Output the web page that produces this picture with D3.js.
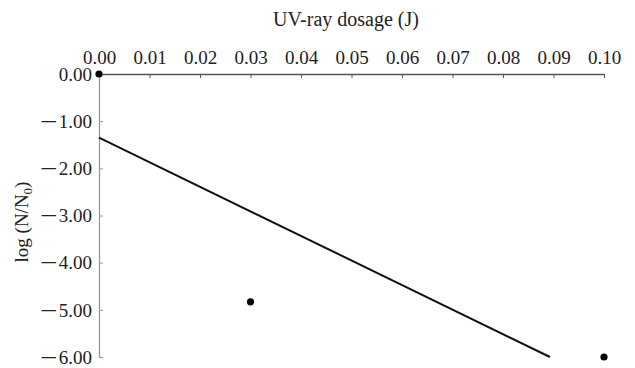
<!DOCTYPE html>
<html>
<head>
<meta charset="utf-8">
<script src="https://cdn.jsdelivr.net/npm/d3@7"></script>
<style>
  body { margin: 0; background: #fff; }
  svg { display: block; }
  text { font-family: "Liberation Serif", "DejaVu Serif", serif; fill: #222; }
</style>
</head>
<body>
<svg></svg>
<script>
// measured points
const dosage = [0.00, 0.03, 0.10];
const logRatio = [0.00, -4.83, -6.00];

// fitted line, drawn from its two ends
const fitDosage = [0.000, 0.0893];
const fitLog = [-1.35, -6.00];

const xTicks = [0, 0.01, 0.02, 0.03, 0.04, 0.05, 0.06, 0.07, 0.08, 0.09, 0.10];
const yTicks = [0, -1, -2, -3, -4, -5, -6];

const iWidth = 635, iHeight = 368;
const margin = {top: 74, right: 31, bottom: 11, left: 99};
const innerWidth = iWidth - margin.left - margin.right;
const innerHeight = iHeight - margin.top - margin.bottom;

const canvas = d3.select('svg')
                 .attr('width', iWidth)
                 .attr('height', iHeight);

const g = canvas.append('g')
                .attr('transform', `translate(${margin.left},${margin.top})`);

const xScale = d3.scaleLinear().domain([0, 0.10]).range([0, innerWidth]);
const yScale = d3.scaleLinear().domain([0, -6]).range([0, innerHeight]);

const f2 = d3.format('.2f');

// top x axis, ticks pointing into the plot
const xAxis = g.append('g')
   .call(d3.axisTop(xScale).tickValues(xTicks).tickFormat(f2)
           .tickSizeInner(-4).tickSizeOuter(0).tickPadding(10));
xAxis.select('.domain').attr('stroke', '#555').attr('stroke-width', 1.3);
xAxis.selectAll('.tick line').attr('stroke', '#555');
xAxis.selectAll('text').style('font-size', '19px').attr('fill', '#222');

// left y axis
const yAxis = g.append('g')
   .call(d3.axisLeft(yScale).tickValues(yTicks).tickFormat(f2)
           .tickSizeInner(-4).tickSizeOuter(0).tickPadding(7));
yAxis.select('.domain').attr('stroke', '#999').attr('stroke-width', 1.3);
yAxis.selectAll('.tick line').attr('stroke', '#999');
yAxis.selectAll('text')
     .style('font-size', '19px').attr('fill', '#222').attr('dy', '0.33em')
     .each(function(d) {
       const t = d3.select(this).text('');
       // long minus sign as in the original typesetting
       if (d < 0) t.append('tspan').style('font-size', '28px').text('\u2013');
       t.append('tspan').attr('dx', d < 0 ? 3 : 0).text(f2(Math.abs(d)));
     });

// regression line
const fit = fitDosage.map((d, i) => [d, fitLog[i]]);
g.append('path')
 .datum(fit)
 .attr('fill', 'none')
 .attr('stroke', '#111')
 .attr('stroke-width', 2)
 .attr('d', d3.line().x(d => xScale(d[0])).y(d => yScale(d[1])));

// points
g.selectAll('circle')
 .data(dosage.map((d, i) => [d, logRatio[i]]))
 .enter()
   .append('circle')
   .attr('cx', d => xScale(d[0]))
   .attr('cy', d => yScale(d[1]))
   .attr('r', 3.6)
   .attr('fill', '#000');

// titles
canvas.append('text')
      .attr('x', 346).attr('y', 26)
      .attr('text-anchor', 'middle')
      .style('font-size', '20px')
      .text('UV-ray dosage (J)');

const yl = canvas.append('text')
      .attr('transform', 'translate(28,222) rotate(-90)')
      .attr('text-anchor', 'middle')
      .style('font-size', '19px');
yl.append('tspan').text('log (N/N');
yl.append('tspan').attr('dy', 4).style('font-size', '13px').text('0');
yl.append('tspan').attr('dy', -4).text(')');
</script>
</body>
</html>
